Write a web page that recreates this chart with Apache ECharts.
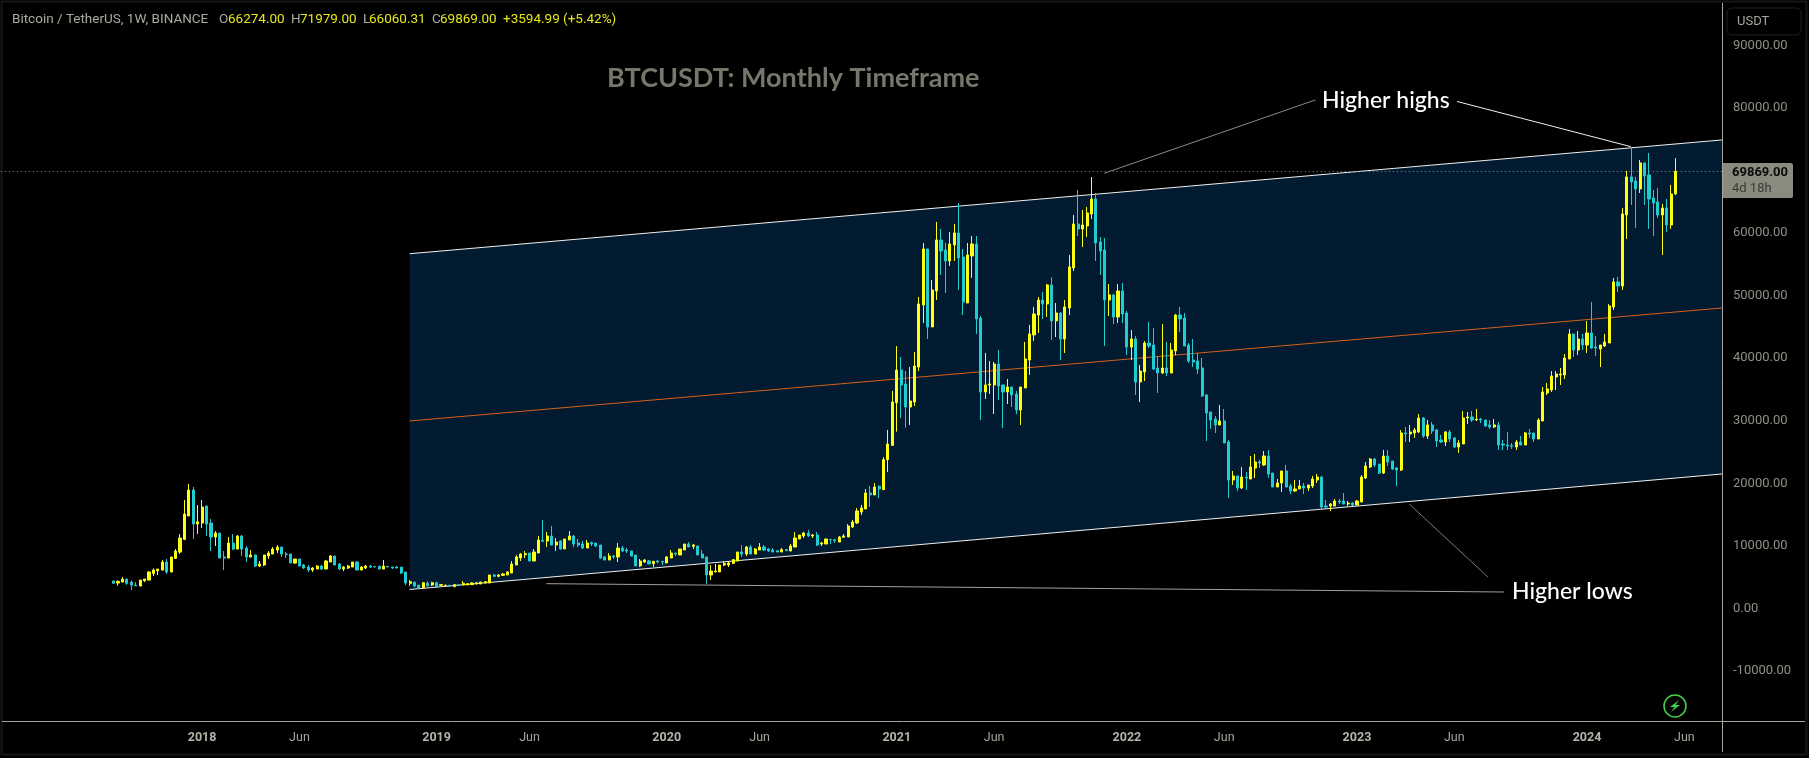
<!DOCTYPE html>
<html>
<head>
<meta charset="utf-8">
<title>BTCUSDT</title>
<script src="https://cdn.jsdelivr.net/npm/echarts@6/dist/echarts.min.js"></script>
<style>
html, body { margin: 0; padding: 0; background: #000; }
#chart { width: 1809px; height: 758px; }
</style>
</head>
<body>
<div id="chart"></div>
<script>
// weekly candles (first bar = Aug 2017)
const opens = [
  4400,4080,4240,4700,4240,3760,3600,4450,4560,5620,
  6050,6150,7440,5840,8020,9030,11060,14790,18950,13510,
  13670,16390,13670,11430,12070,8240,8080,10470,9510,11590,
  9670,8240,8560,6800,6960,8400,8720,9350,9830,8720,
  8720,7280,7920,6960,6640,6160,6320,6800,6320,7440,
  8400,7120,6320,6480,6640,7440,6160,6480,6800,6700,
  6780,6320,6750,6640,6640,6640,5840,4030,4240,3750,
  3340,4040,3770,4140,3720,3680,3720,3500,3830,3770,
  3770,3830,3930,3930,4090,4090,5370,5160,5310,5370,
  5690,6970,8080,8620,8880,7600,8880,10910,10800,11600,
  10160,10800,9520,10960,11600,10480,10320,9680,10530,10480,
  10160,8250,7760,8400,8250,9680,9360,9200,8560,6810,
  7440,7600,7180,7600,7550,7280,8080,8880,8560,9360,
  10320,9950,10000,8720,8250,5370,5850,5850,6960,6960,
  7230,7600,9040,8720,9840,8720,9360,9840,9520,9360,
  9250,9040,9420,9200,9840,11120,11600,12080,11600,11760,
  10320,10320,11060,11000,10640,11400,11440,13040,13680,15440,
  15920,18480,18160,19540,19000,23800,26080,32900,38120,35890,
  32210,33010,38600,48510,57460,45000,50750,58900,57300,55540,
  58100,60020,56180,48830,56340,58260,46430,34610,35730,35730,
  39080,35730,34610,35410,34290,31730,35250,39720,43720,46910,
  49310,48670,51710,45960,47230,43080,48030,54420,61450,60650,
  61130,63050,65450,58580,57300,49310,50110,46590,50750,47230,
  41790,43080,36200,37800,42430,42110,38440,37640,38440,37640,
  41160,46910,46430,42110,39720,39560,38450,34130,31410,30290,
  29340,29980,26620,20550,21190,19270,21020,20700,22460,23420,
  22940,24380,21660,19430,20070,21990,19590,18790,19110,19590,
  19270,19590,20550,21020,16390,16390,16390,17190,17190,16710,
  16870,16550,17030,20870,22620,23900,23100,21660,24380,23580,
  22460,22140,28060,27900,28060,28220,30450,27580,29340,28540,
  26940,26620,28220,27260,25820,26300,30450,30610,30130,30290,
  30130,29340,29020,29340,26300,26140,26040,25820,26620,26140,
  28060,28060,27100,29980,34450,34930,37000,37320,37320,39880,
  43880,41320,43080,42120,44040,41800,41480,41960,42440,48190,
  52190,51550,62890,68970,68330,67050,71210,69290,65610,64970,
  62890,64010,61300,66274
];
const highs = [
  4500,4500,5050,4820,4500,4240,4560,4720,6000,6430,
  6320,7750,7920,8240,9510,11910,17350,19910,19430,16550,
  17350,16390,14310,12390,12070,9190,11430,11910,11760,11760,
  9990,9350,8660,7600,8560,9190,9830,10150,9830,9030,
  8720,7920,7920,7120,6960,6640,6960,6960,7760,8560,
  8400,7280,6800,6960,7440,7540,6800,6960,6960,6750,
  6780,7760,6750,6640,6800,6640,5840,4560,4240,3750,
  4140,4360,4300,4250,3900,3830,3720,3830,3830,4410,
  3980,4200,4140,4250,4300,5370,5530,5530,5690,6000,
  7600,8560,8880,9200,8880,9520,11600,14160,12250,13200,
  11280,10960,11120,12400,11760,11120,10800,10960,10700,10480,
  10160,8400,8880,8560,10480,10000,9680,9200,8560,7920,
  7920,7760,7550,7760,7550,8400,9360,8880,9520,10320,
  10640,10320,10000,9360,8250,6960,7120,6960,7550,7500,
  7920,9040,10160,10000,10160,9680,10480,10160,9680,9680,
  9360,9680,9520,10320,12240,11760,12240,12560,11920,12240,
  10640,11200,11120,11120,11600,11920,13500,14160,16080,16560,
  19120,19600,20070,19700,24200,28540,34770,41950,40200,37960,
  38600,41000,49790,58420,57460,52500,61780,60660,58420,60180,
  61460,64810,57460,58420,59540,59540,46750,40840,39560,39400,
  41320,35730,36690,35410,34770,35410,42600,45320,48190,49790,
  50590,51870,52930,48830,47390,49310,56500,62890,66890,63690,
  64170,68960,66410,59370,59210,51860,50270,51860,52020,47550,
  44510,43550,38920,42750,45790,44830,40360,45470,42590,42430,
  47070,48190,47230,42430,43070,40840,40040,34300,31410,30770,
  32530,31890,26940,21990,21190,22620,21820,24380,24700,23740,
  25180,25340,21660,20700,21990,22940,19910,20550,20550,20070,
  19750,21190,21500,21190,17350,16870,17510,17510,18470,17190,
  17030,17350,21340,23420,24060,24060,23100,25340,25340,23580,
  22620,28540,29020,29340,28860,31090,30610,30130,29820,28700,
  27740,28380,28540,27420,26940,31570,31410,31570,31890,30450,
  30130,30130,30290,29820,26940,28220,26460,26940,27580,28220,
  28700,28060,30450,35410,36050,37960,37960,38440,40680,44680,
  43880,44360,43880,45960,48990,43560,42120,43880,48670,52830,
  52990,64010,69930,73600,68970,71690,71210,72800,66890,67210,
  64650,65450,67690,71979
];
const lows = [
  3950,3650,4240,3800,2950,3650,3600,4240,4560,5200,
  5350,6150,5520,5840,7990,8720,10950,14790,11110,11910,
  12870,11590,9190,9990,8080,6160,8080,9350,9510,8400,
  7440,8240,6640,6640,6800,7920,8720,8880,8240,8080,
  7280,7120,6800,6320,5840,5840,6320,6160,6320,7440,
  6960,6160,6000,6320,6640,6160,6160,6320,6480,6650,
  6320,6320,6640,6320,6480,5520,3760,3650,3400,3280,
  3340,3500,3610,3500,3720,3630,3450,3500,3660,3770,
  3770,3830,3900,3930,4090,4090,5050,5000,5210,5370,
  5690,6970,7600,8080,7600,7600,8880,10640,9840,10160,
  9200,9420,9520,10960,9840,9840,9520,9680,10000,9840,
  7920,7760,7760,7920,7440,9040,8880,8400,6810,6650,
  7280,7120,6650,7230,6960,7280,8080,8400,8560,9360,
  9840,9520,8560,8080,3930,4560,5850,5850,6800,6650,
  7120,7600,8250,8400,8720,8720,9360,9200,9040,9040,
  9040,9040,9250,9200,9840,11120,11280,11440,11280,10000,
  10000,10320,10320,10480,10640,11280,11440,12880,13520,14960,
  15920,16240,18160,17670,19000,21800,26080,28270,30450,28910,
  29340,32370,37960,45640,43080,45000,49310,53300,50430,54740,
  55540,50910,46910,48830,52830,43880,30130,33490,34290,31090,
  33330,28860,32690,32210,31090,29340,35250,37330,42760,44040,
  46270,46590,42920,43400,39720,40840,46910,53940,59530,57780,
  59370,62250,55540,53300,41950,46750,45470,45630,45630,40520,
  39720,34130,33010,36360,41630,38120,34450,37480,37160,37640,
  40520,44190,41950,39240,38600,37480,33810,26780,28700,28060,
  29340,26460,17670,19750,18790,19110,18950,20700,20870,22460,
  22780,20870,19430,19430,18630,19430,18310,18630,19110,18310,
  18790,19270,20070,15910,15910,15590,16390,16710,16710,16390,
  16390,16550,17030,20700,22460,22620,21500,21500,22780,22140,
  19590,21990,26620,26620,27260,28060,27260,27100,27900,25820,
  26460,25980,26620,25660,24860,26300,29500,29820,29980,29660,
  29020,28700,28860,25340,25340,25340,25500,25340,26140,26140,
  27260,26620,27100,29980,34130,34610,34930,35730,36690,39880,
  40200,40520,41320,40840,41480,40360,38600,41800,42440,47710,
  50590,50910,59060,64490,60820,66410,64490,60660,59540,62420,
  56500,60180,60660,66060.31
];
const closes = [
  4050,4350,4700,4030,3760,3650,4560,4720,5840,6150,
  6320,7440,5840,8240,9200,11270,15110,18950,13510,13880,
  16230,13510,11430,12070,8080,8080,10470,9510,11590,9510,
  8240,8560,6800,7120,8560,8880,9510,9830,8720,8640,
  7280,7920,6800,6480,6160,6480,6800,6320,7600,8400,
  6960,6320,6640,6800,7440,6160,6640,6800,6640,6650,
  6320,6800,6640,6480,6480,5680,4080,4300,3600,3300,
  4140,3660,4140,3500,3830,3720,3610,3830,3660,4030,
  3980,4090,4140,4250,4300,5370,5160,5370,5530,5850,
  7120,8250,8720,8780,7600,9040,10960,10750,11600,10160,
  10640,9520,11120,11600,10320,10160,9680,10480,10320,10000,
  8080,7760,8400,8250,9680,9200,9200,8400,6810,7600,
  7760,7120,7550,7440,7440,8250,8880,8720,9520,10320,
  9840,10160,8560,8080,5370,6000,6000,6960,7230,7280,
  7820,9040,8720,9840,8720,9520,9840,9360,9200,9040,
  9040,9420,9250,10000,11280,11760,12080,11600,11760,10160,
  10480,11120,11000,10860,11440,11600,13200,13840,15600,16080,
  18480,18160,19430,19110,23800,26300,33010,38120,35730,32210,
  33170,38760,48670,57460,45000,50910,58900,57140,55540,58260,
  60020,56020,48990,56500,58260,46270,34610,35730,35890,39080,
  35570,34610,35410,34130,31730,35410,39880,43880,47070,49310,
  48670,51710,45960,47230,43080,48190,54580,61460,60650,61290,
  63210,65450,58420,57140,49310,50110,46590,50750,47070,41790,
  43080,36200,37960,42430,41950,38280,37640,38440,37640,41320,
  46910,46270,41950,39560,39400,38280,33970,31250,30130,29340,
  29980,26460,20550,21190,19270,21020,20870,22620,23420,23260,
  24380,21500,19430,20070,21990,19430,18790,19110,19590,19270,
  19750,20700,21020,16230,16230,16710,17190,17030,16710,16870,
  16550,17190,21020,22780,23900,22940,21660,24380,23420,22300,
  22140,28060,27900,28220,28540,30450,27580,29340,28380,26780,
  26620,28220,27100,25820,26460,30450,30610,30130,30240,30130,
  29180,29020,29340,26140,26140,25980,25930,26620,26140,28060,
  27900,27100,30130,34610,35090,37160,37480,37480,40040,43880,
  41320,43080,42120,44040,41640,41640,42120,42600,48350,52190,
  51550,63050,68970,68170,67050,71210,69130,65450,64810,62890,
  64010,61300,66250,69869
];

// time axis labels, position = candle number
const tickBars = [20, 42, 73, 94, 125, 146, 177, 199, 229, 251, 281, 303, 333, 355];
const tickLabels = ['2018','Jun','2019','Jun','2020','Jun','2021','Jun','2022','Jun','2023','Jun','2024','Jun'];
const priceTicks = [-10000,0,10000,20000,30000,40000,50000,60000,70000,80000,90000];

// channel and leader lines: x in candle numbers, y in price
const channelX = [66.9, 363.5];
const channelUpper = [56700, 74880];
const channelMiddle = [29980, 48030];
const channelLower = [3050, 21510];
const leaderHigh1 = [[223.9, 69560], [271.6, 81270]];
const leaderHigh2 = [[303.6, 81030], [342.9, 73810]];
const leaderLow1 = [[97.8, 3980], [314.3, 2650]];
const leaderLow2 = [[292.8, 16710], [310.6, 5050]];

const lastPrice = 69869;
const headerParts = [
  ['Bitcoin / TetherUS, 1W, BINANCE', 12, '#a9a99f'],
  ['O', 219, '#a9a99f'], ['66274.00', 228, '#e6e61a'],
  ['H', 291, '#a9a99f'], ['71979.00', 300, '#e6e61a'],
  ['L', 363, '#a9a99f'], ['66060.31', 369, '#e6e61a'],
  ['C', 432, '#a9a99f'], ['69869.00', 440, '#e6e61a'],
  ['+3594.99 (+5.42%)', 503, '#e6e61a']
];

const upColor = '#ffff14';
const downColor = '#22cdd2';
const uiFont = 'Roboto, sans-serif';
const noteFont = 'Lato, sans-serif';

const leadBars = 25;
const totalBars = 389;

// build category axis + padded candle rows
const categories = new Array(totalBars).fill('');
tickBars.forEach(function (bar, i) {
  categories[bar + leadBars] = tickLabels[i];
});
const candleRows = new Array(leadBars).fill(['-', '-', '-', '-']);
opens.forEach(function (o, i) {
  candleRows.push([o, closes[i], lows[i], highs[i]]);
});

function straightLine(points, color, width, z) {
  return {
    type: 'line',
    xAxisIndex: 1,
    yAxisIndex: 0,
    data: points,
    showSymbol: false,
    silent: true,
    z: z,
    lineStyle: { color: color, width: width }
  };
}

function pairs(xs, ys) {
  return xs.map(function (x, i) { return [x, ys[i]]; });
}

function label(text, x, y, font, color) {
  return {
    type: 'text',
    silent: true,
    z: 20,
    x: x,
    y: y,
    style: { text: text, font: font, fill: color, textVerticalAlign: 'middle' }
  };
}

const chrome = [
  // outer frame
  { type: 'rect', silent: true, z: 0, shape: { x: 1.5, y: 1.5, width: 1805, height: 753 },
    style: { fill: null, stroke: '#161616', lineWidth: 2 } },
  // axis separators
  { type: 'line', silent: true, z: 15, shape: { x1: 2, y1: 721.5, x2: 1805, y2: 721.5 },
    style: { stroke: '#a6a69c', lineWidth: 1 } },
  { type: 'line', silent: true, z: 15, shape: { x1: 1722.5, y1: 3, x2: 1722.5, y2: 752 },
    style: { stroke: '#a6a69c', lineWidth: 1 } },
  // unit box
  { type: 'rect', silent: true, z: 15, shape: { x: 1727, y: 8, width: 74, height: 27, r: 5 },
    style: { fill: '#000', stroke: '#222', lineWidth: 1 } },
  label('USDT', 1737, 22, '13px ' + uiFont, '#a6a69c'),
  // last price box
  { type: 'rect', silent: true, z: 15, shape: { x: 1723, y: 163, width: 70, height: 35, r: [0, 2, 2, 0] },
    style: { fill: '#8a8a7e' } },
  label('69869.00', 1732, 173, 'bold 13px ' + uiFont, '#0a0a0a'),
  label('4d 18h', 1732, 189, '13px ' + uiFont, '#3a3a34'),
  // notes
  label('BTCUSDT: Monthly Timeframe', 607, 78, 'bold 27px ' + noteFont, '#76766a'),
  label('Higher highs', 1322, 101, '500 23px ' + noteFont, '#ffffff'),
  label('Higher lows', 1512, 592, '500 23px ' + noteFont, '#ffffff'),
  // bolt badge
  { type: 'circle', silent: true, z: 15, shape: { cx: 1675, cy: 706, r: 11 },
    style: { fill: null, stroke: '#43d14a', lineWidth: 1.5 } },
  { type: 'polygon', silent: true, z: 15,
    shape: { points: [[1679, 700], [1670, 707], [1674.5, 707], [1671, 712], [1680, 705], [1675.5, 705]] },
    style: { fill: '#43d14a' } }
];
headerParts.forEach(function (part) {
  chrome.push(label(part[0], part[1], 20, '13.5px ' + uiFont, part[2]));
});

const chart = echarts.init(document.getElementById('chart'));

const option = {
  backgroundColor: '#000000',
  animation: false,
  graphic: { elements: chrome },
  grid: { left: 0, top: 4, width: 1722, height: 717 },
  xAxis: [
    {
      type: 'category',
      data: categories,
      boundaryGap: true,
      axisLine: { show: false },
      axisTick: { show: false },
      splitLine: { show: false },
      axisLabel: {
        interval: 0,
        margin: 10,
        color: '#a6a69c',
        fontFamily: 'Roboto, sans-serif',
        fontSize: 12.5,
        formatter: function (value) {
          return /^\d/.test(value) ? '{year|' + value + '}' : value;
        },
        rich: {
          year: { fontWeight: 'bold', color: '#b4b4aa', fontSize: 12.5, fontFamily: 'Roboto, sans-serif' }
        }
      }
    },
    { type: 'value', show: false, min: -leadBars - 0.5, max: 363.5, splitLine: { show: false } }
  ],
  yAxis: {
    type: 'value',
    position: 'right',
    min: -17960,
    max: 96600,
    axisLine: { show: false },
    axisTick: { show: false },
    splitLine: { show: false },
    axisLabel: {
      customValues: priceTicks,
      margin: 11,
      padding: [2, 0, 0, 0],
      color: '#8f8f85',
      fontFamily: 'Roboto, sans-serif',
      fontSize: 13,
      formatter: function (value) { return value.toFixed(2); }
    }
  },
  series: [
    {
      // channel fill
      type: 'custom',
      xAxisIndex: 1,
      yAxisIndex: 0,
      silent: true,
      z: 1,
      data: [[channelX[0], channelUpper[0]]],
      renderItem: function (params, api) {
        return {
          type: 'polygon',
          shape: {
            points: [
              api.coord([channelX[0], channelUpper[0]]),
              api.coord([channelX[1], channelUpper[1]]),
              api.coord([channelX[1], channelLower[1]]),
              api.coord([channelX[0], channelLower[0]])
            ]
          },
          style: { fill: '#021b31' }
        };
      }
    },
    straightLine(pairs(channelX, channelUpper), '#f0f0f0', 1, 2),
    straightLine(pairs(channelX, channelLower), '#f0f0f0', 1, 2),
    straightLine(pairs(channelX, channelMiddle), '#d8601a', 1, 2),
    straightLine(leaderHigh1, '#8a8a82', 1, 2),
    straightLine(leaderHigh2, '#f0f0f0', 1, 2),
    straightLine(leaderLow1, '#a0a098', 1, 2),
    straightLine(leaderLow2, '#7a7a72', 1, 2),
    {
      type: 'candlestick',
      xAxisIndex: 0,
      yAxisIndex: 0,
      z: 5,
      barWidth: 2.6,
      silent: true,
      data: candleRows,
      itemStyle: {
        color: upColor,
        color0: downColor,
        borderColor: upColor,
        borderColor0: downColor,
        borderWidth: 1
      },
      markLine: {
        silent: true,
        symbol: 'none',
        label: { show: false },
        lineStyle: { color: '#8a8a80', type: [1, 3], width: 1 },
        data: [{ yAxis: lastPrice }]
      }
    }
  ]
};

chart.setOption(option);
</script>
</body>
</html>
